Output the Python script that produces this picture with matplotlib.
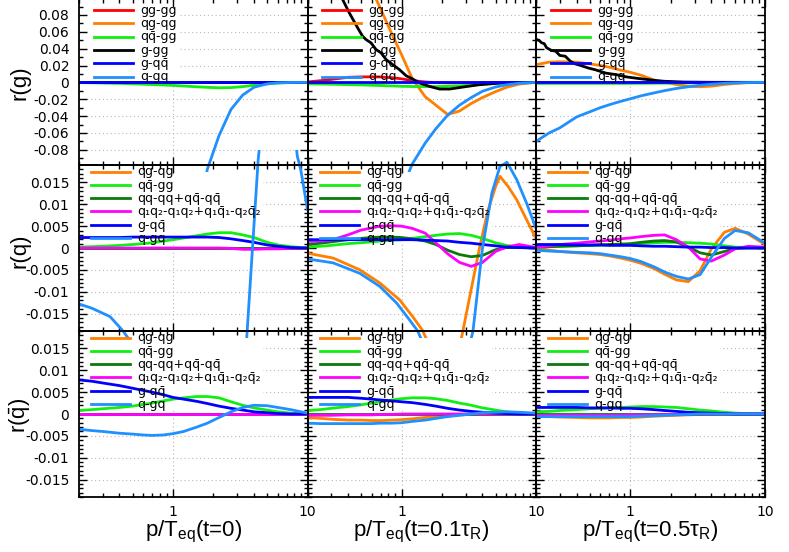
import numpy as np
import matplotlib
matplotlib.use("Agg")
import matplotlib.pyplot as plt
from matplotlib.patches import Rectangle
from matplotlib.lines import Line2D
from matplotlib.ticker import FixedLocator, LogLocator, NullFormatter, FuncFormatter

plt.rcParams['mathtext.fontset'] = 'custom'
plt.rcParams['mathtext.rm'] = 'Liberation Sans'
plt.rcParams['mathtext.it'] = 'Liberation Sans:italic'
plt.rcParams['mathtext.bf'] = 'Liberation Sans:bold'
plt.rcParams['axes.unicode_minus'] = False

# ---------------- data ----------------
X = [0.2, 0.25, 0.3, 0.4, 0.5, 0.6, 0.7, 0.85, 1.0, 1.2, 1.5, 1.8, 2.2, 2.7, 3.3, 4.0, 5.0, 6.0, 7.5, 10]
ZERO = [0.0] * len(X)

# row 1 : r(g)
g_t0_gggg = ZERO
g_t0_qgqg = ZERO
g_t0_qqbgg = [-0.0003, -0.0005, -0.0008, -0.0012, -0.0017, -0.0022, -0.0026, -0.0031, -0.0036, -0.0043,
              -0.0052, -0.0059, -0.0064, -0.0062, -0.0050, -0.0034, -0.0018, -0.0008, -0.0002, 0.0]
g_t0_ggg = ZERO
g_t0_gqqb = ZERO
g_t0_qgq = [-1.2, -1.1, -1.0, -0.85, -0.72, -0.62, -0.53, -0.42, -0.34, -0.26,
            -0.17, -0.103, -0.063, -0.032, -0.015, -0.0058, -0.0018, -0.0005, -0.0001, 0.0]

g_t1_gggg = [0.0005, 0.002, 0.0035, 0.006, 0.0065, 0.0066, 0.0064, 0.0056, 0.0042, 0.0022,
             0.0005, -0.0003, -0.0006, -0.0005, -0.0003, -0.0002, 0.0, 0.0, 0.0, 0.0]
g_t1_qgqg = [0.27, 0.24, 0.21, 0.17, 0.14, 0.11, 0.087, 0.057, 0.033, 0.0047,
             -0.017, -0.027, -0.038, -0.034, -0.025, -0.018, -0.011, -0.006, -0.002, 0.0]
g_t1_qqbgg = [-0.0018, -0.002, -0.0022, -0.0027, -0.003, -0.0034, -0.0037, -0.0042, -0.0046, -0.0049,
              -0.005, -0.005, -0.0047, -0.0041, -0.0032, -0.0022, -0.0012, -0.0006, -0.0002, 0.0]
XB1 = [0.2, 0.3, 0.365, 0.409, 0.472, 0.514, 0.545, 0.594, 0.647, 0.705, 0.769, 0.861, 0.966, 1.08,
       1.21, 1.36, 1.62, 1.92, 2.28, 2.87, 3.82, 5.39, 7.0, 10]
g_t1_ggg = [0.2, 0.13, 0.0983, 0.0825, 0.0647, 0.0547, 0.0508, 0.0468, 0.0389, 0.035, 0.027, 0.021,
            0.0151, 0.008, 0.004, -0.0007, -0.0048, -0.0079, -0.0079, -0.0055, -0.0027, -0.0008, -0.0002, 0.0]
g_t1_gqqb = ZERO
g_t1_qgq = [-0.6, -0.52, -0.46, -0.37, -0.3, -0.25, -0.21, -0.16, -0.128, -0.097,
            -0.072, -0.055, -0.039, -0.027, -0.018, -0.0105, -0.0055, -0.003, -0.001, 0.0]

g_t5_gggg = ZERO
g_t5_qgqg = [0.021, 0.024, 0.0245, 0.024, 0.022, 0.02, 0.018, 0.0145, 0.012, 0.0085,
             0.0028, 0.0002, -0.0025, -0.0048, -0.0052, -0.0045, -0.0025, -0.0013, -0.0004, 0.0]
g_t5_qqbgg = [-0.0012, -0.0012, -0.0012, -0.0012, -0.0012, -0.0012, -0.0012, -0.0012, -0.0012, -0.0011,
              -0.001, -0.0009, -0.0008, -0.0006, -0.0005, -0.0003, -0.0002, -0.0001, 0.0, 0.0]
XB5 = [0.2, 0.21, 0.22, 0.23, 0.24, 0.26, 0.28, 0.3, 0.33, 0.36, 0.39, 0.43, 0.49, 0.55, 0.66, 0.8,
       0.93, 1.1, 1.32, 1.6, 1.8, 2.5, 4.0, 10]
g_t5_ggg = [0.051, 0.050, 0.047, 0.046, 0.041, 0.038, 0.037, 0.032, 0.031, 0.025, 0.022, 0.020, 0.017,
            0.015, 0.011, 0.009, 0.0066, 0.005, 0.0035, 0.002, 0.0013, 0.0004, 0.0001, 0.0]
g_t5_gqqb = ZERO
g_t5_qgq = [-0.070, -0.060, -0.054, -0.041, -0.035, -0.030, -0.0265, -0.0225, -0.0195, -0.016,
            -0.0125, -0.0098, -0.0072, -0.0052, -0.0034, -0.0022, -0.0011, -0.0006, -0.0002, 0.0]

# row 2 : r(q)
q_t0_qgqg = ZERO
q_t0_qqbgg = [0.0002, 0.0003, 0.0004, 0.0006, 0.0008, 0.001, 0.0012, 0.0016, 0.0019, 0.0023,
              0.0028, 0.0032, 0.0035, 0.0035, 0.003, 0.0024, 0.0013, 0.0007, 0.0003, 0.0]
q_t0_qqqq = ZERO
q_t0_q1q2 = [0.0, 0.0, 0.0, 0.0, 0.0, 0.0, 0.0, 0.0, 0.0, 0.0,
             0.0, 0.0, 0.0, -0.0001, -0.0003, -0.0003, -0.0002, -0.0002, -0.0001, 0.0]
q_t0_gqqb = [0.0024, 0.0024, 0.0024, 0.0024, 0.0025, 0.0025, 0.0025, 0.0025, 0.0025, 0.0025,
             0.0025, 0.0025, 0.0024, 0.0021, 0.0017, 0.0013, 0.0007, 0.0004, 0.0001, 0.0]
XQ0 = [0.2, 0.25, 0.34, 0.42, 0.5, 0.7, 1.0, 1.5, 2.2, 3.0, 3.4, 3.56, 3.9, 4.3, 5.0, 6.0, 7.5, 8.4, 8.9, 10]
q_t0_qgq = [-0.0128, -0.0138, -0.0157, -0.0188, -0.022, -0.03, -0.04, -0.05, -0.055, -0.045, -0.029,
            -0.019, 0.0, 0.0203, 0.04, 0.05, 0.035, 0.021, 0.018, 0.0088]

XO1 = [0.2, 0.31, 0.49, 0.69, 0.97, 1.21, 1.43, 1.7, 2.2, 2.6, 2.86, 3.3, 3.8, 4.4, 5.0, 5.4, 6.2, 7.2, 8.5, 10]
q_t1_qgqg = [-0.0012, -0.0023, -0.005, -0.008, -0.0119, -0.0157, -0.0188, -0.024, -0.03, -0.025, -0.019,
             -0.0094, 0.0, 0.0087, 0.014, 0.0164, 0.0141, 0.011, 0.0065, 0.0022]
q_t1_qqbgg = [0.0002, 0.0004, 0.0006, 0.001, 0.0012, 0.0014, 0.0016, 0.0018, 0.0019, 0.0022,
              0.0026, 0.0029, 0.0032, 0.0033, 0.0029, 0.0022, 0.0012, 0.0006, 0.0002, 0.0]
q_t1_qqqq = [0.0008, 0.0011, 0.0014, 0.0019, 0.0022, 0.0024, 0.0025, 0.0025, 0.0024, 0.0021,
             0.0016, 0.0008, -0.0005, -0.0015, -0.002, -0.0017, -0.0004, 0.0001, 0.0001, 0.0]
q_t1_q1q2 = [0.0015, 0.0016, 0.0018, 0.003, 0.0041, 0.0046, 0.005, 0.0051, 0.005, 0.0045,
             0.0034, 0.0012, -0.0013, -0.0033, -0.0042, -0.0033, -0.0008, 0.0002, 0.0008, 0.0001]
q_t1_gqqb = [0.0019, 0.0019, 0.0019, 0.0019, 0.0019, 0.0019, 0.0019, 0.0019, 0.0019, 0.0019,
             0.0018, 0.0017, 0.0016, 0.0013, 0.0011, 0.0008, 0.0005, 0.0002, 0.0001, 0.0]
XL1 = [0.2, 0.31, 0.49, 0.69, 0.92, 1.15, 1.32, 1.6, 2.2, 2.8, 3.4, 4.0, 4.7, 5.4, 6.1, 7.2, 8.5, 10]
q_t1_qgq = [-0.0025, -0.0034, -0.0058, -0.0088, -0.0126, -0.0165, -0.019, -0.025, -0.032, -0.03,
            -0.019, 0.0, 0.0126, 0.0187, 0.0196, 0.0156, 0.0103, 0.0045]

q_t5_qgqg = [0.0, -0.0005, -0.0008, -0.0011, -0.0013, -0.0015, -0.0018, -0.0023, -0.0028, -0.0035,
             -0.0047, -0.006, -0.0073, -0.0077, -0.0052, -0.0002, 0.0036, 0.0045, 0.0032, 0.0008]
q_t5_qqbgg = [0.0002, 0.0003, 0.0004, 0.0005, 0.0006, 0.0007, 0.0007, 0.0008, 0.0008, 0.001,
              0.0012, 0.0013, 0.0013, 0.0012, 0.0011, 0.0009, 0.0005, 0.0002, 0.0001, 0.0]
q_t5_qqqq = [0.0002, 0.0003, 0.0004, 0.0005, 0.0006, 0.0007, 0.0008, 0.0009, 0.001, 0.0013,
             0.0016, 0.0017, 0.0014, 0.0002, -0.0011, -0.0016, -0.0008, -0.0001, 0.0, 0.0]
q_t5_q1q2 = [0.0002, 0.0005, 0.0008, 0.0011, 0.0014, 0.0016, 0.0018, 0.0021, 0.0023, 0.0026,
             0.0029, 0.003, 0.0019, 0.0002, -0.0025, -0.003, -0.0016, -0.0002, 0.0004, 0.0002]
q_t5_gqqb = [0.0008, 0.0008, 0.0008, 0.0007, 0.0007, 0.0007, 0.0006, 0.0006, 0.0006, 0.0005,
             0.0004, 0.0004, 0.0003, 0.0002, 0.0002, 0.0001, 0.0001, 0.0, 0.0, 0.0]
q_t5_qgq = [-0.0005, -0.0007, -0.0008, -0.001, -0.0011, -0.0013, -0.0016, -0.002, -0.0024, -0.0031,
            -0.0043, -0.0055, -0.0065, -0.0071, -0.0061, -0.0021, 0.0022, 0.004, 0.0035, 0.0011]

# row 3 : r(qbar)
a_t0_qgqg = ZERO
a_t0_qqbgg = [0.0008, 0.001, 0.0012, 0.0015, 0.0018, 0.0022, 0.0025, 0.003, 0.0034, 0.0037,
              0.004, 0.004, 0.0037, 0.0028, 0.002, 0.0014, 0.0009, 0.0005, 0.0002, 0.0]
a_t0_qqqq = ZERO
a_t0_q1q2 = ZERO
a_t0_gqqb = [0.0078, 0.0075, 0.0071, 0.0065, 0.0059, 0.0054, 0.005, 0.0044, 0.0038, 0.0034,
             0.0029, 0.0024, 0.0018, 0.0013, 0.0009, 0.0005, 0.0003, 0.0001, 0.0, 0.0]
a_t0_qgq = [-0.0035, -0.0038, -0.004, -0.0044, -0.0046, -0.0048, -0.0049, -0.0048, -0.0045, -0.004,
            -0.003, -0.0021, -0.0008, 0.0005, 0.0015, 0.002, 0.0019, 0.0015, 0.001, 0.0002]

a_t1_qgqg = [-0.0008, -0.001, -0.0012, -0.0014, -0.0014, -0.0015, -0.0015, -0.0014, -0.0013, -0.0011,
             -0.0008, -0.0006, -0.0004, -0.0002, -0.0001, 0.0, 0.0, 0.0, 0.0, 0.0]
a_t1_qqbgg = [0.0008, 0.001, 0.0013, 0.0017, 0.0021, 0.0025, 0.0028, 0.0032, 0.0035, 0.0037,
              0.0037, 0.0035, 0.0031, 0.0025, 0.002, 0.0014, 0.0009, 0.0005, 0.0002, 0.0]
a_t1_qqqq = ZERO
a_t1_q1q2 = [-0.0003, -0.0003, -0.0003, -0.0002, -0.0002, -0.0002, -0.0001, -0.0001, 0.0, 0.0,
             0.0, 0.0, 0.0, 0.0, 0.0, 0.0, 0.0, 0.0, 0.0, 0.0]
a_t1_gqqb = [0.0038, 0.0038, 0.0038, 0.0038, 0.0036, 0.0034, 0.0032, 0.003, 0.0028, 0.0026,
             0.0022, 0.0018, 0.0013, 0.0009, 0.0006, 0.0004, 0.0002, 0.0001, 0.0, 0.0]
a_t1_qgq = [-0.0021, -0.0022, -0.0022, -0.0022, -0.0022, -0.0022, -0.0021, -0.0021, -0.002, -0.0017,
            -0.0014, -0.001, -0.0006, -0.0003, 0.0, 0.0003, 0.0004, 0.0005, 0.0004, 0.0002]

a_t5_qgqg = [-0.0005, -0.0006, -0.0007, -0.0008, -0.0009, -0.0009, -0.0009, -0.0008, -0.0008, -0.0007,
             -0.0005, -0.0004, -0.0003, -0.0002, -0.0001, 0.0, 0.0, 0.0, 0.0, 0.0]
a_t5_qqbgg = [0.0005, 0.0006, 0.0008, 0.001, 0.0012, 0.0013, 0.0014, 0.0015, 0.0016, 0.0017,
              0.0017, 0.0016, 0.0015, 0.0012, 0.0009, 0.0007, 0.0004, 0.0002, 0.0001, 0.0]
a_t5_qqqq = ZERO
a_t5_q1q2 = [-0.0003, -0.0003, -0.0003, -0.0003, -0.0003, -0.0003, -0.0003, -0.0003, -0.0002, -0.0002,
             -0.0002, -0.0001, -0.0001, 0.0, 0.0, 0.0, 0.0, 0.0, 0.0, 0.0]
a_t5_gqqb = [0.0015, 0.0015, 0.0015, 0.0015, 0.0014, 0.0014, 0.0014, 0.0013, 0.0013, 0.0012,
             0.001, 0.0008, 0.0006, 0.0004, 0.0003, 0.0002, 0.0001, 0.0, 0.0, 0.0]
a_t5_qgq = [-0.0006, -0.0006, -0.0006, -0.0006, -0.0006, -0.0006, -0.0006, -0.0006, -0.0006, -0.0005,
            -0.0004, -0.0003, -0.0002, -0.0001, 0.0, 0.0, 0.0, 0.0, 0.0, 0.0]

QB = 'q\u0304'  # q with combining macron (q-bar)
labels_g = ['gg-gg', 'qg-qg', 'q' + QB + '-gg', 'g-gg', 'g-q' + QB, 'q-gq']
labels_q = ['qg-qg', 'q' + QB + '-gg', 'qq-qq+q' + QB + '-q' + QB,
            'q\u2081q\u2082-q\u2081q\u2082+q\u2081' + QB + '\u2081-q\u2082' + QB + '\u2082',
            'g-q' + QB, 'q-gq']
colors_g = ['#ff0000', '#ff7f00', '#11ee11', '#000000', '#0000ff', '#2090ff']
colors_q = ['#ff7f00', '#11ee11', '#0a7a0a', '#ff00ff', '#0000ff', '#2090ff']

xlabels = [r'p/T$_{\mathrm{eq}}$(t=0)', r'p/T$_{\mathrm{eq}}$(t=0.1τ$_{\mathrm{R}}$)',
           r'p/T$_{\mathrm{eq}}$(t=0.5τ$_{\mathrm{R}}$)']
ylabels = ['r(g)', 'r(q)', r'r($\mathrm{\bar{q}}$)']

panels = [
    [[(X, g_t0_gggg), (X, g_t0_qgqg), (X, g_t0_qqbgg), (X, g_t0_ggg), (X, g_t0_gqqb), (X, g_t0_qgq)],
     [(X, g_t1_gggg), (X, g_t1_qgqg), (X, g_t1_qqbgg), (XB1, g_t1_ggg), (X, g_t1_gqqb), (X, g_t1_qgq)],
     [(X, g_t5_gggg), (X, g_t5_qgqg), (X, g_t5_qqbgg), (XB5, g_t5_ggg), (X, g_t5_gqqb), (X, g_t5_qgq)]],
    [[(X, q_t0_qgqg), (X, q_t0_qqbgg), (X, q_t0_qqqq), (X, q_t0_q1q2), (X, q_t0_gqqb), (XQ0, q_t0_qgq)],
     [(XO1, q_t1_qgqg), (X, q_t1_qqbgg), (X, q_t1_qqqq), (X, q_t1_q1q2), (X, q_t1_gqqb), (XL1, q_t1_qgq)],
     [(X, q_t5_qgqg), (X, q_t5_qqbgg), (X, q_t5_qqqq), (X, q_t5_q1q2), (X, q_t5_gqqb), (X, q_t5_qgq)]],
    [[(X, a_t0_qgqg), (X, a_t0_qqbgg), (X, a_t0_qqqq), (X, a_t0_q1q2), (X, a_t0_gqqb), (X, a_t0_qgq)],
     [(X, a_t1_qgqg), (X, a_t1_qqbgg), (X, a_t1_qqqq), (X, a_t1_q1q2), (X, a_t1_gqqb), (X, a_t1_qgq)],
     [(X, a_t5_qgqg), (X, a_t5_qqbgg), (X, a_t5_qqqq), (X, a_t5_q1q2), (X, a_t5_gqqb), (X, a_t5_qgq)]],
]

# ---------------- layout ----------------
W, H = 789, 552
fig = plt.figure(figsize=(W / 100, H / 100), dpi=100)
col_left = [79, 307.5, 536]
col_right = [307.5, 536, 765]
row_top = [-1.5, 165, 331]
row_bot = [165, 331, 497]
ylims = [(-0.098, 0.0995), (-0.019, 0.019), (-0.019, 0.019)]
ymaj = [[-0.08, -0.06, -0.04, -0.02, 0.0, 0.02, 0.04, 0.06, 0.08],
        [-0.015, -0.01, -0.005, 0.0, 0.005, 0.01, 0.015],
        [-0.015, -0.01, -0.005, 0.0, 0.005, 0.01, 0.015]]
ymin_step = [0.01, 0.001, 0.001]
EXT = 15  # pixels of overflow of curves beyond the frame (vertical)

def fx(px):
    return px / W

def fy(py):
    return 1 - py / H

tickfont = dict(family='DejaVu Sans', size=10)
keyfont = dict(family='DejaVu Sans', size=9)
labfont = dict(family=['Liberation Sans', 'DejaVu Sans'], size=16)

fmt = FuncFormatter(lambda v, p: '0' if abs(v) < 1e-12 else ('%g' % round(v, 6)))

for r in range(3):
    for c in range(3):
        l, rr, t, b = col_left[c], col_right[c], row_top[r], row_bot[r]
        ax = fig.add_axes([fx(l), fy(b), fx(rr) - fx(l), fy(t) - fy(b)])
        ax.patch.set_visible(False)
        ax.set_xscale('log')
        ax.set_xlim(0.2, 10)
        ax.set_ylim(*ylims[r])
        ax.grid(False)
        # grid (dotted)
        for v in ymaj[r]:
            if abs(v) > 1e-12:
                ax.axhline(v, color='#b8b8b8', lw=0.8, ls=(0, (1, 2.5)), zorder=0.5)
        ax.axvline(1.0, color='#b8b8b8', lw=0.8, ls=(0, (1, 2.5)), zorder=0.5)

        # ticks
        ax.xaxis.set_major_locator(FixedLocator([1, 10]))
        ax.xaxis.set_minor_locator(LogLocator(base=10, subs=np.arange(2, 10), numticks=20))
        ax.xaxis.set_minor_formatter(NullFormatter())
        ax.yaxis.set_major_locator(FixedLocator(ymaj[r]))
        mn = np.arange(-0.2, 0.2001, ymin_step[r])
        ax.yaxis.set_minor_locator(FixedLocator([m for m in mn if ylims[r][0] < m < ylims[r][1]]))
        ax.tick_params(which='both', direction='in', top=True, right=True, width=1.0, color='black')
        ax.tick_params(which='major', length=6)
        ax.tick_params(which='minor', length=3)
        ax.tick_params(axis='y', pad=7)
        ax.tick_params(axis='x', pad=6)
        if c == 0:
            ax.yaxis.set_major_formatter(fmt)
            for lab in ax.get_yticklabels():
                lab.set_fontproperties(matplotlib.font_manager.FontProperties(**tickfont))
        else:
            ax.set_yticklabels([])
        if r == 2:
            ax.set_xticklabels(['1', '10'])
            for lab in ax.get_xticklabels():
                lab.set_fontproperties(matplotlib.font_manager.FontProperties(**tickfont))
        else:
            ax.set_xticklabels([])
        for s in ax.spines.values():
            s.set_linewidth(1.3)
            s.set_zorder(4)

        # overflow clip region
        clip = Rectangle((fx(l), fy(b + EXT)), fx(rr) - fx(l), fy(t - EXT) - fy(b + EXT),
                         transform=fig.transFigure, facecolor='none', edgecolor='none')
        cols = colors_g if r == 0 else colors_q
        labs = labels_g if r == 0 else labels_q
        for k, (xs, ys) in enumerate(panels[r][c]):
            ln, = ax.plot(xs, ys, color=cols[k], lw=2.0, zorder=2)
            ln.set_clip_path(clip)

        # key (white box under data, above grid)
        if r == 0:
            h0, h1, tx, y0, boxw, boxb = l + 14.5, l + 53.5, l + 61, 10.0, 101, 82
        else:
            h0, h1, tx, y0, boxw, boxb = l + 12, l + 51, l + 58.5, t + 6.5, 184, t + 79
        step = 13.3
        ax.add_patch(Rectangle((fx(l + 6), fy(boxb)), fx(boxw) - fx(6), fy(t + 7) - fy(boxb),
                               transform=fig.transFigure, facecolor='white', edgecolor='none',
                               zorder=1, clip_on=False))
        for k in range(6):
            yy = y0 + k * step
            ax.add_line(Line2D([fx(h0), fx(h1)], [fy(yy), fy(yy)], transform=fig.transFigure,
                               color=cols[k], lw=2.0, zorder=3, clip_on=False))
            ax.text(fx(tx), fy(yy + 3.8), labs[k], transform=fig.transFigure, ha='left',
                    va='baseline', zorder=3, clip_on=False, **keyfont)

# axis titles
for c in range(3):
    fig.text(fx((col_left[c] + col_right[c]) / 2), fy(532), xlabels[c], ha='center', va='center', **labfont)
for r, cy in enumerate([83, 251, 415]):
    fig.text(fx(20), fy(cy), ylabels[r], rotation=90, ha='center', va='center', **labfont)

fig.savefig('out.png', dpi=100, facecolor='white')
